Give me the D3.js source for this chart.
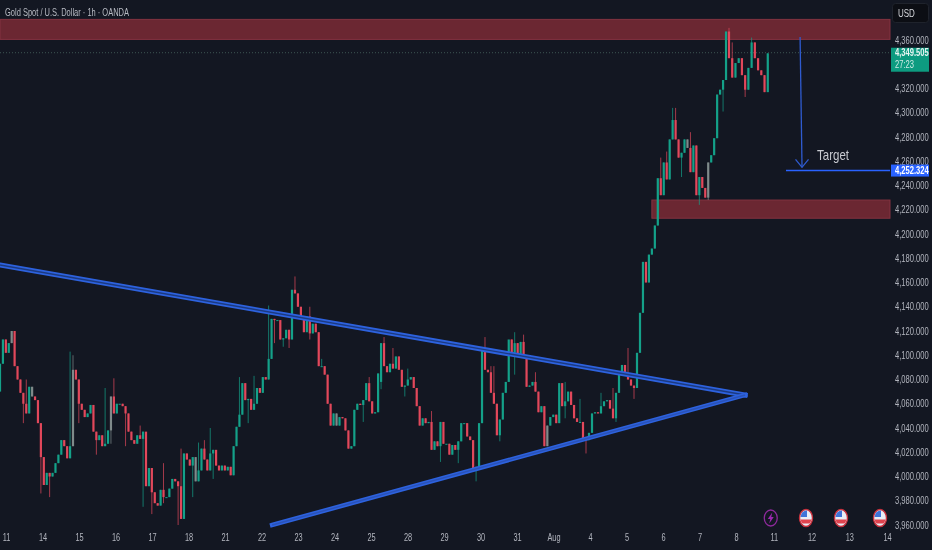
<!DOCTYPE html>
<html>
<head>
<meta charset="utf-8">
<script src="https://cdn.jsdelivr.net/npm/d3@7"></script>
<style>
  html, body { margin: 0; padding: 0; background: #131722; overflow: hidden; }
  svg { display: block; }
  text { font-family: "Liberation Sans", sans-serif; }
</style>
</head>
<body>
<div id="chart"></div>
<script>
// hourly closes (thinned out a bit), open = previous close
const closes = [
  4093,4113,4102,4110,4120,4091,4080,4069,4060,4052,4074,4066,4063,4044,4016,3993,4003,4000,4003,4011,
  4018,4030,4025,4015,4025,4088,4080,4060,4055,4049,4052,4059,4037,4030,4034,4025,4027,4038,4066,4052,
  4060,4060,4058,4052,4037,4030,4027,4034,4031,4037,3992,4007,3987,3978,3976,3989,3983,3983,3990,3998,
  3996,3992,3965,4019,4014,4009,4016,3996,4005,4023,4014,4005,4019,4022,4009,4005,4009,4005,4008,4001,
  4025,4041,4051,4077,4063,4064,4055,4060,4073,4069,4082,4080,4097,4130,4129,4129,4113,4114,4121,4113,
  4154,4151,4140,4132,4119,4132,4118,4126,4119,4091,4091,4084,4060,4042,4052,4042,4049,4048,4038,4023,
  4025,4055,4060,4059,4063,4077,4062,4052,4053,4085,4110,4091,4086,4093,4089,4099,4088,4074,4075,4080,
  4082,4073,4058,4042,4048,4044,4045,4022,4029,4025,4045,4027,4027,4018,4026,4022,4029,4044,4044,4033,
  4030,4005,4008,4044,4104,4088,4086,4069,4060,4034,4047,4069,4078,4113,4102,4110,4100,4111,4099,4074,
  4075,4078,4070,4053,4058,4025,4042,4049,4051,4044,4077,4058,4062,4070,4059,4048,4045,4045,4031,4030,
  4036,4052,4053,4052,4058,4062,4063,4056,4048,4069,4084,4092,4084,4080,4075,4073,4102,4135,4177,4160,
  4183,4188,4207,4246,4232,4259,4245,4278,4294,4278,4263,4267,4278,4271,4251,4273,4232,4247,4238,4230,
  4259,4265,4279,4315,4319,4327,4367,4345,4329,4341,4345,4331,4319,4337,4358,4345,4335,4331,4317,4349
];
const firstOpen = 4070;
// candles that open away from the previous close: [index, open]
const gapOpens = [[130, 4078]];
// visible wicks: [index, high, low]
const wicks = [
  [0,null,4073],[8,null,4044],[9,4080,null],[14,null,3986],[17,null,3983],[24,4103,null],[25,4100,null],
  [27,null,4044],[33,null,4018],[36,4073,null],[38,null,4027],[39,4081,null],[43,null,4025],[48,4042,null],
  [49,null,3975],[50,4016,null],[52,null,3969],[56,4011,3978],[61,null,3960],[62,4023,null],[66,null,3983],
  [68,4028,null],[70,4030,null],[72,4040,null],[73,null,3998],[74,4019,null],[82,4082,null],[85,null,4044],
  [87,4083,null],[92,4141,null],[94,null,4110],[97,null,4107],[99,null,4106],[101,4165,null],[106,4140,4113],
  [110,4097,null],[124,null,4045],[126,4082,null],[130,null,4072],[131,4115,null],[134,4106,null],
  [138,null,4066],[139,4089,null],[147,4054,null],[150,null,4012],[156,null,4011],[162,null,3996],
  [165,4115,null],[167,4091,null],[168,4091,null],[170,null,4029],[173,4082,null],[175,4119,4084],
  [178,4117,null],[182,4086,null],[192,4078,4048],[197,4064,null],[199,null,4019],[204,4069,null],
  [208,4073,null],[209,null,4045],[211,4092,null],[213,4106,null],[215,null,4064],[224,4263,null],
  [226,4268,null],[228,4304,null],[229,4304,null],[231,null,4247],[234,4284,null],[237,null,4224],
  [240,null,4228],[245,null,4301],[247,4370,null],[248,4358,null],[252,null,4313],[254,4362,null]
];
// bodies that look grey in the picture
const greyCandles = [4, 11, 25, 38, 67, 115, 186, 233, 240];

const dayLabels = ["11","14","15","16","17","18","21","22","23","24","25","28","29","30","31","Aug","4","5","6","7","8","11","12","13","14"];
const priceTicks = [4360,4320,4300,4280,4260,4240,4220,4200,4180,4160,4140,4120,4100,4080,4060,4040,4020,4000,3980,3960];

const lastPrice = 4349.505;
const countdown = "27:23";
const targetPrice = 4252.324;
const redZones = [
  { first: 0, top: 4377, bottom: 4360.5 },
  { first: 221, top: 4228, bottom: 4213 }
];
const upperTrend = [[0, 4174.4], [252, 4067.2]];
const lowerTrend = [[93.2, 3960], [252, 4067.2]];
const arrowLine = [[269, 4362.5], [269.6, 4255]];
const flagDays = [22, 23, 24];
const boltDay = 21;

const width = 932, height = 550, plotRight = 890;
const green = "#14a189", red = "#e2485b", blue = "#2962ff", axisText = "#b2b5be";

const svg = d3.select("#chart").append("svg")
  .attr("width", width)
  .attr("height", height)
  .style("filter", "blur(0.4px)");

// Scales
const x = d3.scaleLinear().domain([0, 100, 197, 217, 247, 260]).range([0, 292, 580, 640, 729, 771]);
const y = d3.scaleLinear().domain([3960, 4360]).range([525, 40]);
const xDay = d3.scaleLinear().domain([0, 20, 24]).range([6, 736, 887]);

// Candles
const gapMap = new Map(gapOpens);
const wickMap = new Map(wicks.map(w => [w[0], w]));
const candles = closes.map((c, i) => {
  const open = gapMap.has(i) ? gapMap.get(i) : (i === 0 ? firstOpen : closes[i - 1]);
  const w = wickMap.get(i) || [];
  return {
    i, open, close: c,
    high: w[1] != null ? w[1] : Math.max(open, c),
    low: w[2] != null ? w[2] : Math.min(open, c),
    color: greyCandles.includes(i) ? "#7f8a8a" : (c >= open ? green : red)
  };
});

// Red zones go under the candles
svg.selectAll(".zone")
  .data(redZones)
  .enter()
  .append("rect")
  .attr("class", "zone")
  .attr("x", d => x(d.first))
  .attr("y", d => y(d.top))
  .attr("width", d => plotRight - x(d.first))
  .attr("height", d => y(d.bottom) - y(d.top))
  .attr("fill", "#6b2732")
  .attr("stroke", "#843340")
  .attr("stroke-width", 1);

// Last price dotted line
svg.append("line")
  .attr("x1", 0)
  .attr("x2", plotRight)
  .attr("y1", y(lastPrice))
  .attr("y2", y(lastPrice))
  .attr("stroke", "#3d5552")
  .attr("stroke-dasharray", "1 2");

svg.selectAll(".wick")
  .data(candles)
  .enter()
  .append("line")
  .attr("class", "wick")
  .attr("x1", d => x(d.i))
  .attr("x2", d => x(d.i))
  .attr("y1", d => y(d.high))
  .attr("y2", d => y(d.low))
  .attr("stroke", d => d.color)
  .attr("stroke-opacity", 0.7)
  .attr("stroke-width", 1);

svg.selectAll(".body")
  .data(candles)
  .enter()
  .append("rect")
  .attr("class", "body")
  .attr("x", d => x(d.i) - 1.1)
  .attr("y", d => y(Math.max(d.open, d.close)))
  .attr("width", 2.2)
  .attr("height", d => Math.max(1, Math.abs(y(d.open) - y(d.close))))
  .attr("fill", d => d.color);

// Trend lines
const trendPath = d3.line().x(d => x(d[0])).y(d => y(d[1]));
[upperTrend, lowerTrend].forEach((t, n) => {
  svg.append("path")
    .attr("d", trendPath(t))
    .attr("fill", "none")
    .attr("stroke", "#2d62de")
    .attr("stroke-width", n === 0 ? 5 : 4.5)
    .attr("stroke-linecap", "square");
  svg.append("path")
    .attr("d", trendPath(t))
    .attr("fill", "none")
    .attr("stroke", n === 0 ? "#1c3a80" : "#2a52b8")
    .attr("stroke-width", 1.4);
});

// Target arrow
svg.append("path")
  .attr("d", trendPath(arrowLine))
  .attr("fill", "none")
  .attr("stroke", "#2f5bd0")
  .attr("stroke-width", 1.3);
const tip = [x(arrowLine[1][0]), y(arrowLine[1][1])];
svg.append("path")
  .attr("d", `M${tip[0] - 6.5},${tip[1] - 8}L${tip[0]},${tip[1]}L${tip[0] + 6.5},${tip[1] - 8}`)
  .attr("fill", "none")
  .attr("stroke", "#2f5bd0")
  .attr("stroke-width", 1.3);

svg.append("line")
  .attr("x1", 786)
  .attr("x2", plotRight)
  .attr("y1", y(targetPrice))
  .attr("y2", y(targetPrice))
  .attr("stroke", blue)
  .attr("stroke-width", 1.6);

svg.append("text")
  .attr("x", 817)
  .attr("y", 160)
  .attr("font-size", 15)
  .attr("textLength", 32)
  .attr("lengthAdjust", "spacingAndGlyphs")
  .attr("fill", "#c9cbd1")
  .text("Target");

// Title
svg.append("text")
  .attr("x", 5)
  .attr("y", 16)
  .attr("font-size", 10)
  .attr("textLength", 124)
  .attr("lengthAdjust", "spacingAndGlyphs")
  .attr("fill", "#b8bbc3")
  .text("Gold Spot / U.S. Dollar · 1h · OANDA");

// Axes, labels are narrow in the picture so squeeze them sideways
const yAxis = d3.axisRight(y)
  .tickValues(priceTicks)
  .tickSize(0)
  .tickPadding(0)
  .tickFormat(d3.format(",.3f"));
const yG = svg.append("g").attr("transform", "translate(895,0)").call(yAxis);
yG.select(".domain").remove();
yG.selectAll("text")
  .attr("fill", axisText)
  .attr("font-size", 10)
  .attr("font-family", "Liberation Sans")
  .attr("transform", "scale(0.76,1)");

const xAxis = d3.axisBottom(xDay)
  .tickValues(d3.range(dayLabels.length))
  .tickSize(0)
  .tickPadding(0)
  .tickFormat(i => dayLabels[i]);
const xG = svg.append("g").attr("transform", "translate(0,534)").call(xAxis);
xG.select(".domain").remove();
xG.selectAll("text")
  .attr("fill", axisText)
  .attr("font-size", 10)
  .attr("font-family", "Liberation Sans")
  .attr("transform", "scale(0.74,1)");

// Price labels on the axis
function pillText(value, dy, bold) {
  return svg.append("text")
    .attr("transform", `translate(895,${dy}) scale(0.76,1)`)
    .attr("font-size", 10)
    .attr("font-weight", bold ? "bold" : null)
    .text(value);
}
svg.append("rect")
  .attr("x", 891).attr("y", y(lastPrice) - 5)
  .attr("width", 38).attr("height", 24)
  .attr("fill", "#0d9b80");
pillText(d3.format(",.3f")(lastPrice), y(lastPrice) + 3.5, true).attr("fill", "#e8f5f2");
pillText(countdown, y(lastPrice) + 15.5, false).attr("fill", "#cdeae4");

svg.append("rect")
  .attr("x", 891).attr("y", y(targetPrice) - 6)
  .attr("width", 38).attr("height", 12)
  .attr("fill", blue);
pillText(d3.format(",.3f")(targetPrice), y(targetPrice) + 3.5, true).attr("fill", "#ffffff");

// USD button
svg.append("rect")
  .attr("x", 892.5).attr("y", 3.5)
  .attr("width", 36).attr("height", 19).attr("rx", 3)
  .attr("fill", "#0c0e14")
  .attr("stroke", "#1f232c");
svg.append("text")
  .attr("transform", "translate(898,17) scale(0.8,1)")
  .attr("font-size", 10)
  .attr("fill", "#d6d8dd")
  .text("USD");

// Calendar events at the bottom
const iconY = 518;
const bolt = svg.append("g").attr("transform", `translate(${xDay(boltDay) - 3},${iconY})`);
bolt.append("ellipse")
  .attr("rx", 6.5).attr("ry", 8)
  .attr("fill", "#131722")
  .attr("stroke", "#8e2a9c").attr("stroke-width", 1.3);
bolt.append("path")
  .attr("d", "M1.5,-5.5L-3,1H-0.5L-1.5,5.5L3,-1H0.5Z")
  .attr("fill", "#9c27b0");

flagDays.forEach((d, i) => {
  const g = svg.append("g").attr("transform", `translate(${[806, 841, 880][i]},${iconY})`);
  g.append("ellipse")
    .attr("rx", 6.5).attr("ry", 8.5)
    .attr("fill", "#e8edf5")
    .attr("stroke", "#c9303c").attr("stroke-width", 1.4);
  g.append("path")
    .attr("d", "M-5.5,-1A6,7 0 0 1 1,-7.5V-1Z")
    .attr("fill", "#3f74d8");
  g.append("path")
    .attr("d", "M-5.4,1.5H5.4A6,7 0 0 1 3.5,5.5H-3.5A6,7 0 0 1 -5.4,1.5Z")
    .attr("fill", "#e0434e");
});
</script>
</body>
</html>
